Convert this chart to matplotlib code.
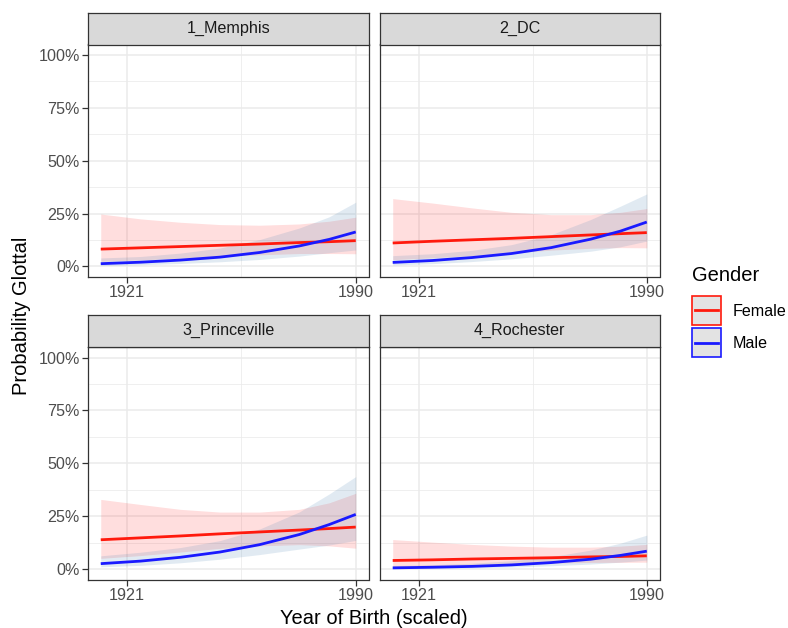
import numpy as np
import matplotlib
matplotlib.use('Agg')
import matplotlib.pyplot as plt
from matplotlib.patches import Rectangle
from matplotlib.lines import Line2D

plt.rcParams['font.family'] = ['Liberation Sans', 'DejaVu Sans']

# data (probability in %)
years = [1913, 1925, 1937, 1949, 1961, 1973, 1982, 1990]
sites = ['1_Memphis', '2_DC', '3_Princeville', '4_Rochester']
genders = ['Female', 'Male']
x_breaks = [1921, 1990]

female_fit = [[8.2, 8.8, 9.4, 10.0, 10.6, 11.3, 11.7, 12.2],
              [11.1, 11.9, 12.6, 13.3, 14.1, 14.9, 15.5, 16.0],
              [13.8, 14.7, 15.6, 16.6, 17.5, 18.4, 19.1, 19.8],
              [4.0, 4.3, 4.7, 5.0, 5.3, 5.7, 5.9, 6.2]]
female_lo = [[2.4, 3.1, 3.9, 4.8, 5.5, 6.1, 6.1, 6.0],
             [3.2, 4.1, 5.1, 6.4, 7.7, 8.6, 8.9, 8.8],
             [5.0, 6.3, 8.0, 9.7, 10.9, 11.5, 10.9, 9.8],
             [1.1, 1.4, 1.8, 2.2, 2.7, 3.1, 3.1, 3.2]]
female_hi = [[24.8, 22.5, 20.9, 19.8, 19.5, 20.1, 21.4, 23.3],
             [32.1, 30.0, 27.7, 25.6, 24.5, 24.5, 25.6, 27.4],
             [32.9, 30.5, 28.2, 26.9, 26.9, 28.2, 31.3, 35.8],
             [13.9, 12.7, 11.6, 10.8, 10.3, 10.3, 10.8, 11.6]]
male_fit = [[1.3, 2.0, 3.0, 4.4, 6.6, 9.7, 12.8, 16.3],
            [1.9, 2.8, 4.2, 6.1, 8.9, 12.9, 16.7, 21.0],
            [2.5, 3.7, 5.5, 8.0, 11.5, 16.3, 21.0, 25.8],
            [0.5, 0.8, 1.2, 1.9, 3.0, 4.6, 6.4, 8.4]]
male_lo = [[0.4, 0.8, 1.4, 2.2, 3.3, 4.9, 6.5, 7.8],
           [0.7, 1.3, 2.3, 3.6, 5.3, 7.2, 9.3, 12.0],
           [1.0, 1.7, 2.9, 4.6, 6.8, 9.4, 11.3, 13.5],
           [0.15, 0.3, 0.55, 0.9, 1.5, 2.3, 3.2, 4.2]]
male_hi = [[4.0, 4.7, 6.3, 8.7, 12.7, 18.2, 23.5, 30.4],
           [5.1, 6.0, 7.6, 10.3, 15.0, 22.2, 28.5, 34.3],
           [6.2, 7.9, 10.1, 13.4, 18.9, 27.0, 35.5, 43.7],
           [1.6, 2.0, 2.7, 3.9, 5.8, 8.9, 12.2, 16.0]]

line_col = {'Female': '#ff1a0d', 'Male': '#1a1aff'}
fill_col = {'Female': '#ff0000', 'Male': '#4682b4'}
fill_alpha = {'Female': 0.13, 'Male': 0.16}

W, H = 788, 628
fig = plt.figure(figsize=(W / 100, H / 100), dpi=100)


def rect(l, t, r, b):
    return [l / W, 1 - b / H, (r - l) / W, (b - t) / H]


cols = [(88, 368.5), (380, 659.5)]
rows = [(13, 44.5, 277), (314.5, 347, 579.5)]
span = years[-1] - years[0]
xlim = (years[0] - 0.05 * span, years[-1] + 0.05 * span)

for i, site in enumerate(sites):
    r, c = divmod(i, 2)
    l, rr = cols[c]
    st, pt, pb = rows[r]
    ax = fig.add_axes(rect(l, pt, rr, pb))
    ax.set_xlim(*xlim)
    ax.set_ylim(-0.05, 1.05)
    ax.set_xticks(x_breaks)
    ax.set_xticks([np.mean(x_breaks)], minor=True)
    ax.set_yticks([0, 0.25, 0.5, 0.75, 1.0])
    ax.set_yticks([0.125, 0.375, 0.625, 0.875], minor=True)
    ax.grid(True, which='major', color='#ebebeb', lw=1.1, zorder=0)
    ax.grid(True, which='minor', color='#ebebeb', lw=0.55, zorder=0)
    ax.set_axisbelow(True)
    ax.tick_params(which='major', length=4, width=0.9, color='#333333',
                   labelsize=11.6, labelcolor='#4d4d4d', pad=2)
    ax.tick_params(which='minor', length=0)
    if c == 0:
        ax.set_yticklabels(['0%', '25%', '50%', '75%', '100%'])
    else:
        ax.tick_params(axis='y', which='major', length=0, labelleft=False)
    for s in ax.spines.values():
        s.set_color('#333333')
        s.set_linewidth(0.9)

    data = {'Female': (female_fit[i], female_lo[i], female_hi[i]),
            'Male': (male_fit[i], male_lo[i], male_hi[i])}
    for g in genders:
        fit, lo, hi = data[g]
        ax.fill_between(years, np.array(lo) / 100, np.array(hi) / 100,
                        color=fill_col[g], alpha=fill_alpha[g], lw=0, zorder=2)
    for g in genders:
        fit = data[g][0]
        ax.plot(years, np.array(fit) / 100, color=line_col[g], lw=2.0,
                zorder=3, solid_capstyle='butt')

    sax = fig.add_axes(rect(l, st, rr, pt))
    sax.set_facecolor('#d9d9d9')
    sax.set_xticks([])
    sax.set_yticks([])
    for s in sax.spines.values():
        s.set_color('#333333')
        s.set_linewidth(0.9)
    sax.text(0.5, 0.5, site, ha='center', va='center', fontsize=11.6,
             color='#1a1a1a', transform=sax.transAxes)

fig.text(374 / W, 1 - 618 / H, 'Year of Birth (scaled)', ha='center',
         va='center', fontsize=14.5)
fig.text(22 / W, 1 - 316 / H, 'Probability Glottal', ha='center',
         va='center', rotation=90, fontsize=14.5)

# legend
fig.text(692 / W, 1 - 275 / H, 'Gender', ha='left', va='center', fontsize=14.5)
key_top = [296, 328]
for g, kt in zip(genders, key_top):
    fig.patches.append(Rectangle((692 / W, 1 - (kt + 29) / H), 29 / W, 29 / H,
                                 transform=fig.transFigure, facecolor='#e3e3e3',
                                 edgecolor=line_col[g], lw=1.2))
    fig.lines.append(Line2D([695 / W, 718 / W], [1 - (kt + 14.5) / H] * 2,
                            transform=fig.transFigure, color=line_col[g], lw=2.0))
    fig.text(733 / W, 1 - (kt + 15) / H, g, ha='left', va='center', fontsize=11.6)

fig.savefig('out.png', dpi=100)
